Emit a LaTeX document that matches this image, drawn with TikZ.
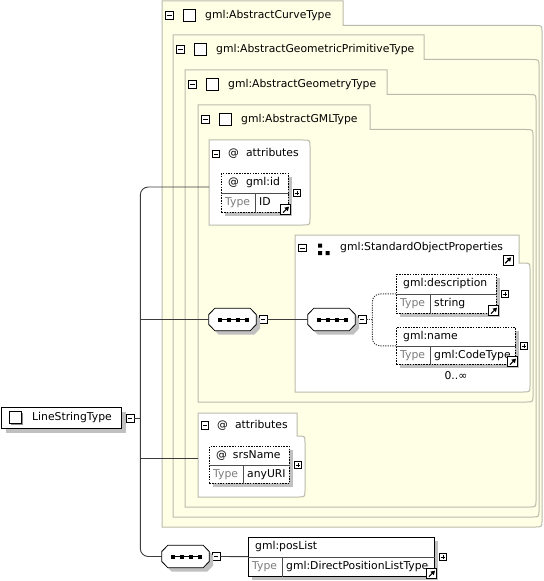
\documentclass[tikz,border=0pt]{standalone}
\usepackage{fontspec}
\setmainfont{DejaVu Sans}
\usetikzlibrary{positioning}
\usetikzlibrary{calc}
\usetikzlibrary{arrows.meta}

\definecolor{panelfill}{RGB}{255,255,230}
\definecolor{panelline}{RGB}{186,186,172}
\definecolor{shadowgray}{RGB}{192,192,192}
\definecolor{typegray}{RGB}{125,125,125}
\definecolor{wiregray}{RGB}{60,60,60}

\newcommand{\tabshape}[7]{%
  \draw[#1] (#2,#7) -- (#2,#3) -- (#4,#3) -- (#4,#5) -- (#6-7,#5)
    .. controls (#6,#5) .. (#6,#5+7) -- (#6,#7-7)
    .. controls (#6,#7) .. (#6-7,#7) -- cycle;}

\newcommand{\typepanel}[7]{%
  \tabshape{panel}{#2}{#3}{#4}{#3+24.5}{#5}{#6}
  \node[collapse] (#1M) at (#2+7.5,#3+14.5) {};
  \node[checkbox] (#1C) at (#2+27,#3+14.5) {};
  \node[lbl] (#1T) at (#2+43,#3+14.5) {#7};}

\newcommand{\xsdelem}[8]{%
  \node[elem,#1,minimum width=#5bp,minimum height=#6bp] (#2) at (#3,#4) {};
  \draw[divider] (#2.west) -- (#2.east)
    ([xshift=34bp]#2.west) -- ([xshift=34bp]#2.south west);
  \node[lbl] (#2T) at ($(#2.north west)!.5!(#2.west)+(7bp,0)$) {#7};
  \node[lbl,text=typegray] (#2Y) at ($(#2.west)!.5!(#2.south west)+(4bp,0)$) {Type};
  \node[lbl] (#2V) at ($(#2.west)!.5!(#2.south west)+(38bp,0)$) {#8};}

\newcommand{\seqicon}[1]{%
  \filldraw[fill=white,line width=.8bp,shadowed]
    ([yshift=5bp]#1.west) -- ([xshift=6bp]#1.north west)
    -- ([xshift=-6bp]#1.north east) -- ([yshift=5bp]#1.east)
    -- ([yshift=-5bp]#1.east) -- ([xshift=-6bp]#1.south east)
    -- ([xshift=6bp]#1.south west) -- ([yshift=-5bp]#1.west) -- cycle;
  \draw[line width=1bp] ([xshift=-14bp]#1.center) -- ([xshift=14bp]#1.center);
  \foreach \dx in {-15,-6,3,12}
    \fill ([shift={(\dx,2)}]#1.center) rectangle +(4,-4);}

\begin{document}
\begin{tikzpicture}[x=1bp,y=-1bp,inner sep=0pt,node distance=4bp,
    font=\fontsize{10.8bp}{12bp}\selectfont]
  \tikzstyle{panel}=[fill=panelfill,draw=panelline,line width=1bp]
  \tikzstyle{attrbox}=[fill=white,draw=panelline,line width=1bp]
  \tikzstyle{lbl}=[anchor=west,text height=8bp,text depth=2.5bp]
  \tikzstyle{shadowed}=[preaction={fill=shadowgray,transform canvas={shift={(4bp,-4bp)}}}]
  \tikzstyle{elem}=[draw,fill=white,line width=.8bp,anchor=north west,shadowed]
  \tikzstyle{optelem}=[dash pattern=on 1.5bp off 1.2bp]
  \tikzstyle{divider}=[draw=black!70,line width=.6bp]
  \tikzstyle{seq}=[minimum width=47bp,minimum height=22bp]
  \tikzstyle{collapse}=[draw,fill=white,line width=.6bp,minimum size=7.5bp,
    path picture={\draw[line width=.6bp] ([xshift=1.6bp]path picture bounding box.west)
      -- ([xshift=-1.6bp]path picture bounding box.east);}]
  \tikzstyle{expand}=[draw,fill=white,line width=.6bp,minimum size=7.5bp,
    path picture={\draw[line width=.6bp] ([xshift=1.6bp]path picture bounding box.west)
      -- ([xshift=-1.6bp]path picture bounding box.east)
      ([yshift=-1.6bp]path picture bounding box.north)
      -- ([yshift=1.6bp]path picture bounding box.south);}]
  \tikzstyle{checkbox}=[draw,fill=white,line width=.7bp,minimum size=12bp,
    preaction={fill=black!45,transform canvas={shift={(1bp,-1bp)}}}]
  \tikzstyle{linkicon}=[draw,fill=white,line width=.8bp,minimum size=10bp,
    path picture={\draw[line width=1.2bp,-{Triangle[length=4bp,width=4.5bp]}]
      ([shift={(2.2bp,2.2bp)}]path picture bounding box.south west)
      -- ([shift={(-1.8bp,-1.8bp)}]path picture bounding box.north east);}]
  \tikzstyle{wire}=[draw=wiregray,line width=.9bp]
  \tikzstyle{optwire}=[wire,dash pattern=on 1.2bp off 1.2bp]

  \useasboundingbox (0,0) rectangle (544,581);

  \typepanel{Curve}{162}{1}{343}{542}{527}{gml:AbstractCurveType}
  \typepanel{Primitive}{173}{35}{424}{539}{517}{gml:AbstractGeometricPrimitiveType}
  \typepanel{Geometry}{185}{70}{387}{536}{507}{gml:AbstractGeometryType}
  \typepanel{GML}{198}{105}{370}{533}{402}{gml:AbstractGMLType}

  \tabshape{attrbox}{209}{140}{209}{140}{310}{225}
  \node[collapse] (AttrAM) at (216,154) {};
  \node[lbl] (AttrAT) at (228,154) {@\hspace{7bp}attributes};
  \coordinate (AttrA) at (209,187);
  \xsdelem{optelem}{GmlId}{221}{173}{67}{39}{@\hspace{7bp}gml:id}{ID}
  \node[expand,right=of GmlId] (GmlIdP) {};
  \node[linkicon] (GmlIdL) at ([shift={(-3bp,3bp)}]GmlId.south east) {};

  \tabshape{attrbox}{295}{235}{519}{263}{530}{392}
  \node[collapse] (GroupM) at (302.5,248) {};
  \fill (318,243.5) rectangle +(4,4) (318,251) rectangle +(4,4)
    (325.5,251) rectangle +(4,4);
  \node[lbl] (GroupT) at (340,248) {gml:StandardObjectProperties};
  \node[linkicon] (GroupL) at (508,260.5) {};

  \node[seq] (SeqA) at (232.5,319.5) {};
  \node[collapse,right=3bp of SeqA] (SeqAM) {};
  \node[seq] (SeqB) at (331.5,319.5) {};
  \node[collapse,right=3bp of SeqB] (SeqBM) {};
  \seqicon{SeqA}
  \seqicon{SeqB}
  \coordinate[right=6bp of SeqBM] (Fork);

  \xsdelem{optelem}{Desc}{396}{274}{100}{39}{gml:description}{string}
  \node[expand,right=of Desc] (DescP) {};
  \node[linkicon] (DescL) at ([shift={(-3bp,3bp)}]Desc.south east) {};
  \xsdelem{optelem}{Name}{396}{327}{119}{37}{gml:name}{gml:CodeType}
  \node[expand,right=of Name] (NameP) {};
  \node[linkicon] (NameL) at ([shift={(-3bp,3bp)}]Name.south east) {};
  \node[below=6bp of Name] (NameOcc) {0..∞};

  \tabshape{attrbox}{198}{413}{297}{436}{305}{497}
  \node[collapse] (AttrBM) at (205,425.5) {};
  \node[lbl] (AttrBT) at (217,425.5) {@\hspace{7bp}attributes};
  \coordinate (AttrB) at (198,458);
  \xsdelem{optelem}{SrsName}{209}{446}{80}{37}{@\hspace{6bp}srsName}{anyURI}
  \node[expand,right=of SrsName] (SrsNameP) {};

  \node[draw,fill=white,line width=1.2bp,anchor=north west,minimum width=120bp,
    minimum height=21bp,shadowed] (LineString) at (1,407) {};
  \node[checkbox] (LineStringC) at (15.5,417.5) {};
  \node[lbl] (LineStringT) at (32,417.5) {LineStringType};
  \node[collapse,right=of LineString] (LineStringM) {};
  \coordinate[right=6bp of LineStringM] (Trunk);

  \node[seq] (SeqC) at (185.5,556.5) {};
  \node[collapse,right=3bp of SeqC] (SeqCM) {};
  \seqicon{SeqC}
  \xsdelem{}{PosList}{248}{537}{186}{39}{gml:posList}{gml:DirectPositionListType}
  \node[expand,right=of PosList] (PosListP) {};
  \node[linkicon] (PosListL) at ([shift={(-3bp,3bp)}]PosList.south east) {};

  \draw[wire] (LineStringM) -- (Trunk);
  \draw[wire,rounded corners=8bp] (AttrA) -| (Trunk) |- (SeqC);
  \draw[wire] (Trunk |- SeqA) -- (SeqA);
  \draw[wire] (Trunk |- AttrB) -- (AttrB);
  \draw[wire] (SeqAM) -- (SeqB);
  \draw[wire] (SeqCM) -- (PosList);
  \draw[optwire] (SeqBM) -- (Fork);
  \draw[optwire,rounded corners=8bp] (Desc) -| (Fork) |- (Name);
\end{tikzpicture}
\end{document}
